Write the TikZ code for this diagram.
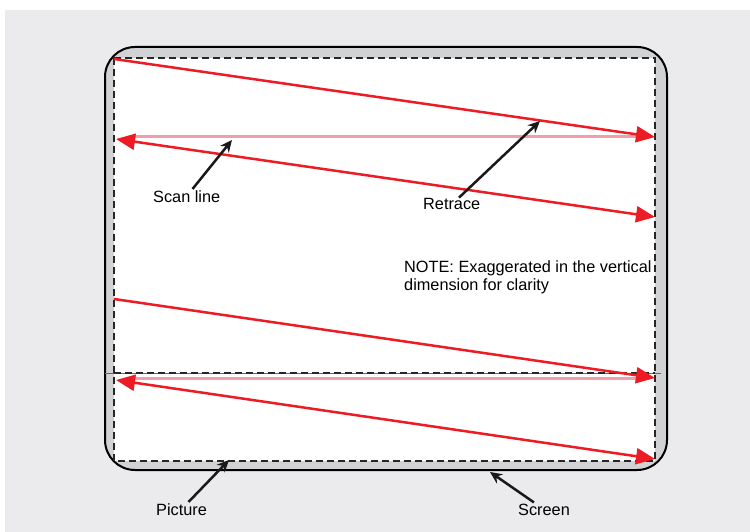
\documentclass[tikz,border=0pt]{standalone}
\usepackage{fontspec}
\setmainfont{Liberation Sans}
\usetikzlibrary{arrows.meta}
\definecolor{bggray}{RGB}{235,235,237}
\definecolor{screengray}{RGB}{209,210,212}
\definecolor{beamred}{RGB}{237,28,36}
\definecolor{beampink}{RGB}{242,156,172}

\tikzset{
  lbl/.style={anchor=base west, inner sep=1pt, font=\fontsize{16.3pt}{18pt}\selectfont},
  beam/.style={beamred, line width=2.5pt, -{Triangle[length=19pt,width=16pt]}},
  beamboth/.style={beamred, line width=2.5pt, {Triangle[length=19pt,width=16pt]}-{Triangle[length=19pt,width=16pt]}},
  ghost/.style={beampink, line width=3pt},
  pointer/.style={black!90, line width=2.5pt, -{Stealth[length=12pt,width=11pt]}}
}

\begin{document}
\begin{tikzpicture}[x=1pt, y=-1pt]
        \useasboundingbox (0,0) rectangle (750,532);
        \fill [white] (0,0) rectangle (750,532);
        \fill [bggray] (5,10) rectangle (750,532);
        % screen and picture area
        \draw [fill=screengray, line width=2pt, rounded corners=30pt] (105,47) rectangle (667,470);
        \fill [white] (114,58) rectangle (655,461);
        \draw [black!60, line width=1pt] (105,373) -- (661,373);
        \draw [black!85, line width=2pt, dash pattern=on 7pt off 4pt] (114,58) rectangle (655,461);
        \draw [black!85, line width=1.5pt, dash pattern=on 7pt off 4pt] (114,373) -- (655,373);
        % scan lines
        \coordinate (t1) at (114,59);
        \coordinate (t2) at (655,137);
        \coordinate (t3) at (116,139);
        \coordinate (t4) at (655,217);
        \coordinate (b1) at (114,299);
        \coordinate (b2) at (655,378);
        \coordinate (b3) at (116,380);
        \coordinate (b4) at (655,459);
        \draw [ghost] (130,137) -- (640,137);
        \draw [ghost] (130,378) -- (640,378);
        \draw [beam] (t1) -- (t2);
        \draw [beamboth] (t3) -- (t4);
        \draw [beam] (b1) -- (b2);
        \draw [beamboth] (b3) -- (b4);
        % labels
        \coordinate (scanpt) at (232,140);
        \coordinate (retracept) at (540,121);
        \coordinate (picturept) at (229,460);
        \coordinate (screenpt) at (490,472);
        \node [lbl] (scan) at (152,202) {Scan line};
        \node [lbl] (retrace) at (422,210) {Retrace};
        \node [lbl] (picture) at (155,515) {Picture};
        \node [lbl] (screen) at (517,515) {Screen};
        \node [lbl, align=left] (note) at (403,290) {NOTE: Exaggerated in the vertical\\dimension for clarity};
        \draw [pointer] (scan) -- (scanpt);
        \draw [pointer] (retrace) -- (retracept);
        \draw [pointer] (picture) -- (picturept);
        \draw [pointer] (screen) -- (screenpt);
\end{tikzpicture}
\end{document}
